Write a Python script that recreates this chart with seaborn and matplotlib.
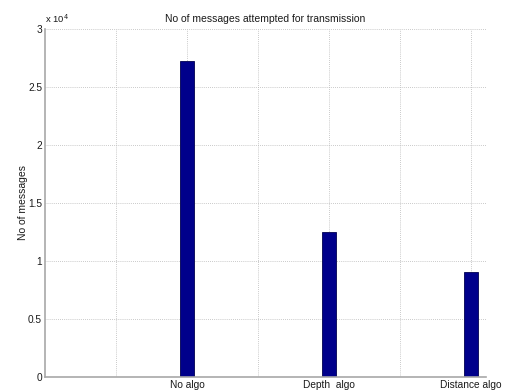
import matplotlib
matplotlib.use("Agg")
import matplotlib.pyplot as plt
import seaborn as sns
import pandas as pd

categories = ["No algo", "Depth  algo", "Distance algo"]
messages = [27300, 12500, 9000]

df = pd.DataFrame({"algo": categories, "messages": messages})

sns.set_style("white")
plt.rcParams["font.family"] = ["Liberation Sans", "DejaVu Sans"]

fig = plt.figure(figsize=(5.1, 3.9), dpi=100)
ax = fig.add_axes([0.088, 0.034, 0.865, 0.891])

sns.barplot(data=df, x="algo", y="messages", color="#00008b",
            width=0.1, saturation=1, edgecolor="#000050", linewidth=0.6, ax=ax)

ax.set_xlim(-1, 2.106)
ax.set_ylim(0, 30000)

# grid every half category step; labels only under the bars
xt = [-0.5, 0, 0.5, 1, 1.5, 2]
ax.set_xticks(xt)
ax.set_xticklabels(["", categories[0], "", categories[1], "", categories[2]])
yt = [0, 5000, 10000, 15000, 20000, 25000, 30000]
ax.set_yticks(yt)
ax.set_yticklabels(["0", "0.5", "1", "1.5", "2", "2.5", "3"])

ax.grid(True, linestyle=(0, (1, 1.5)), color="#b8b8b8", linewidth=0.6)
ax.set_axisbelow(True)

for side in ["top", "right"]:
    ax.spines[side].set_visible(False)
for side in ["left", "bottom"]:
    ax.spines[side].set_color("#a8a8a8")
    ax.spines[side].set_linewidth(1.2)

ax.tick_params(axis="both", direction="in", length=3, width=0.6,
               color="#808080", labelsize=7.3, labelcolor="#1a1a1a", pad=2)
ax.tick_params(axis="x", pad=2.5)

ax.set_xlabel("")
ax.set_ylabel("No of messages", fontsize=7.5, color="#1a1a1a", labelpad=0)
ax.set_title("No of messages attempted for transmission", fontsize=7.5,
             color="#1a1a1a", pad=5.5)

ax.text(0.0, 1.012, r"x 10$^4$", transform=ax.transAxes, fontsize=6.8,
        color="#1a1a1a", ha="left", va="bottom")

fig.savefig("out.png", dpi=100)
